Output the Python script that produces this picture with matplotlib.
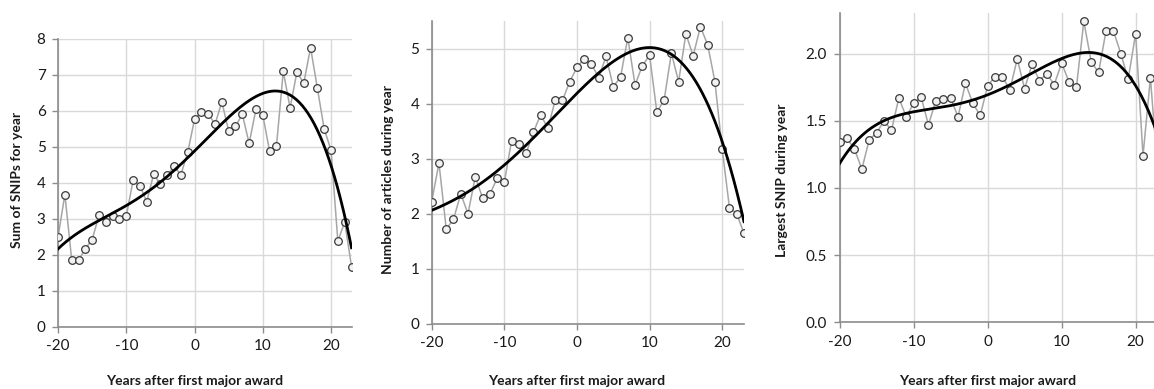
import numpy as np
import matplotlib.pyplot as plt

plt.rcParams['font.family'] = ['Lato', 'DejaVu Sans']
plt.rcParams['axes.unicode_minus'] = False

# years relative to first major award
years = np.arange(-20, 24)

sum_snip = [2.50, 3.68, 1.87, 1.86, 2.17, 2.43, 3.10, 2.92, 3.08, 3.01,
            3.08, 4.08, 3.92, 3.48, 4.24, 3.97, 4.22, 4.46, 4.23, 4.85,
            5.77, 5.98, 5.93, 5.63, 6.25, 5.45, 5.57, 5.91, 5.10, 6.05,
            5.89, 4.88, 5.02, 7.10, 6.09, 7.08, 6.77, 7.76, 6.63, 5.50,
            4.91, 2.38, 2.92, 1.68]

n_articles = [2.22, 2.92, 1.72, 1.90, 2.36, 2.00, 2.67, 2.29, 2.35, 2.64,
              2.57, 3.33, 3.27, 3.10, 3.48, 3.80, 3.55, 4.06, 4.06, 4.40,
              4.66, 4.82, 4.72, 4.47, 4.86, 4.31, 4.48, 5.20, 4.34, 4.69,
              4.88, 3.85, 4.06, 4.92, 4.40, 5.27, 4.87, 5.40, 5.07, 4.40,
              3.17, 2.11, 2.00, 1.64]

max_snip = [1.34, 1.37, 1.29, 1.14, 1.36, 1.41, 1.50, 1.43, 1.67, 1.53,
            1.63, 1.68, 1.47, 1.65, 1.66, 1.67, 1.53, 1.78, 1.63, 1.54,
            1.76, 1.83, 1.83, 1.73, 1.96, 1.74, 1.92, 1.80, 1.85, 1.77,
            1.93, 1.79, 1.75, 2.24, 1.94, 1.86, 2.17, 2.17, 2.00, 1.81,
            2.15, 1.24, 1.82, 1.12]

ylabels = ['Sum of SNIPs for year', 'Number of articles during year',
           'Largest SNIP during year']
xlabel = 'Years after first major award'
yticks = [np.arange(0, 9, 1), np.arange(0, 6, 1), np.arange(0, 2.01, 0.5)]
ylims = [(0, 8), (0, 5.5), (0, 2.3)]
ytick_fmt = ['{:.0f}', '{:.0f}', '{:.1f}']

# axes positions in figure fractions (third panel is cut at the right edge)
positions = [[0.0503, 0.1594, 0.2543, 0.7404],
             [0.3741, 0.1679, 0.2706, 0.7776],
             [0.7276, 0.1715, 0.2757, 0.7941]]
ylabel_x = [17, 388, 782]

fig = plt.figure(figsize=(11.54, 3.89), dpi=100)

for i, vals in enumerate([sum_snip, n_articles, max_snip]):
    ax = fig.add_axes(positions[i])
    vals = np.array(vals)

    # 4th order polynomial trend line fitted to the yearly values
    coef = np.polyfit(years, vals, 4)
    xs = np.linspace(-20, 23, 300)
    ax.plot(years, vals, '-', color='#a6a6a6', lw=1.1, zorder=2)
    ax.plot(years, vals, 'o', ms=5.5, mfc='#f2f2f2', mec='#3a3a3a',
            mew=0.9, zorder=3)
    ax.plot(xs, np.polyval(coef, xs), '-', color='black', lw=2.0, zorder=4)

    ax.set_xlim(-20, 23)
    ax.set_ylim(*ylims[i])
    ax.set_xticks([-20, -10, 0, 10, 20])
    ax.set_yticks(yticks[i])
    ax.set_yticklabels([ytick_fmt[i].format(v) for v in yticks[i]])
    ax.grid(True, color='#d9d9d9', lw=1.0)
    ax.set_axisbelow(True)
    for s in ['top', 'right']:
        ax.spines[s].set_visible(False)
    for s in ['left', 'bottom']:
        ax.spines[s].set_color('#8c8c8c')
        ax.spines[s].set_linewidth(1.2)
    ax.tick_params(axis='both', colors='#8c8c8c', length=4, width=1.0,
                   labelsize=11, labelcolor='#1a1a1a', pad=5)

    fig.text(ylabel_x[i] / 1154, 1 - 180 / 389, ylabels[i], rotation=90,
             ha='center', va='center', fontsize=10, fontweight='bold',
             color='#1a1a1a')
    xc = (positions[i][0] + positions[i][2] * 20 / 43)
    fig.text(xc, 1 - 381 / 389, xlabel, ha='center', va='center',
             fontsize=10, fontweight='bold', color='#1a1a1a')

fig.savefig('out.png', dpi=100)
